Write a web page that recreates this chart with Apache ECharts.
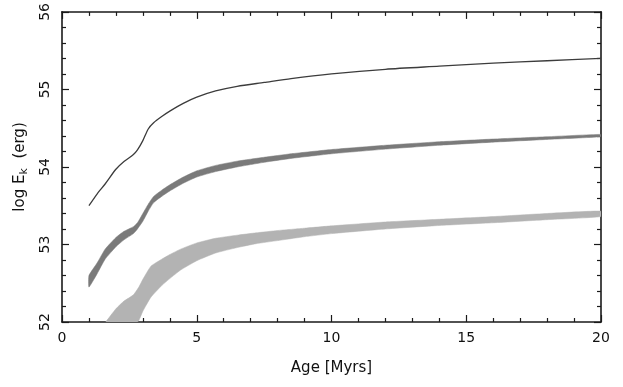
<!DOCTYPE html>
<html>
<head>
<meta charset="utf-8">
<script src="https://cdn.jsdelivr.net/npm/echarts@6/dist/echarts.min.js"></script>
<style>
html,body{margin:0;padding:0;background:#fff;}
#chart{width:623px;height:387px;}
</style>
</head>
<body>
<div id="chart"></div>
<script>
// Top curve (thin line)
const topAge  = [1.0, 1.3, 1.6, 2.0, 2.3, 2.65, 2.8, 3.0, 3.2, 3.4, 3.7, 4.0, 4.5, 5.0, 5.7, 6.5, 7.5, 8.5, 10, 12, 14, 16, 18, 20];
const topLogE = [53.50, 53.65, 53.78, 53.97, 54.07, 54.16, 54.22, 54.34, 54.49, 54.57, 54.65, 54.72, 54.82, 54.90, 54.98, 55.04, 55.09, 55.14, 55.20, 55.26, 55.30, 55.34, 55.37, 55.40];

// Middle band (dark grey)
const midAge  = [1.0, 1.3, 1.6, 2.0, 2.3, 2.65, 2.8, 3.0, 3.2, 3.4, 3.7, 4.0, 4.5, 5.0, 5.7, 6.5, 7.5, 8.5, 10, 12, 14, 16, 18, 20];
const midLow  = [52.45, 52.62, 52.81, 52.97, 53.06, 53.14, 53.20, 53.30, 53.43, 53.54, 53.62, 53.69, 53.79, 53.87, 53.94, 54.00, 54.06, 54.11, 54.17, 54.23, 54.28, 54.32, 54.355, 54.39];
const midHigh = [52.60, 52.76, 52.94, 53.09, 53.17, 53.23, 53.28, 53.40, 53.52, 53.62, 53.70, 53.77, 53.87, 53.95, 54.02, 54.075, 54.125, 54.17, 54.225, 54.28, 54.325, 54.36, 54.39, 54.42];

// Lower band (light grey)
const lightAge  = [1.0, 1.3, 1.6, 2.0, 2.3, 2.65, 2.85, 3.0, 3.3, 3.7, 4.0, 4.4, 5.0, 5.7, 6.5, 7.2, 8.0, 9.0, 10, 12, 14, 16, 18, 20];
const lightLow  = [51.25, 51.40, 51.55, 51.72, 51.85, 51.95, 52.02, 52.14, 52.32, 52.47, 52.56, 52.67, 52.79, 52.89, 52.96, 53.01, 53.05, 53.10, 53.14, 53.20, 53.245, 53.28, 53.32, 53.36];
const lightHigh = [51.72, 51.86, 51.99, 52.17, 52.27, 52.35, 52.45, 52.55, 52.72, 52.81, 52.87, 52.94, 53.02, 53.08, 53.12, 53.15, 53.18, 53.21, 53.24, 53.29, 53.325, 53.36, 53.40, 53.43];

const xMin = 0, xMax = 20, xStep = 5;
const yMin = 52, yMax = 56, yStep = 1;

const FONT = 'DejaVu Sans';
const AX = '#1a1a1a';

function pairs(xs, ys) { return xs.map((x, i) => [x, ys[i]]); }
function rows(xs, lo, hi) { return xs.map((x, i) => [x, lo[i], hi[i]]); }

function bandSeries(data, color, z) {
  return {
    type: 'custom', data: data, z: z, silent: true, clip: true,
    encode: {x: 0, y: [1, 2]},
    renderItem: function (params, api) {
      if (params.dataIndex !== 0) return null;
      const up = [], dn = [];
      for (let i = 0; i < data.length; i++) {
        up.push(api.coord([data[i][0], data[i][2]]));
        dn.push(api.coord([data[i][0], data[i][1]]));
      }
      const pts = up.concat(dn.reverse());
      const cs = params.coordSys;
      return {
        type: 'polygon',
        shape: {points: pts, smooth: 0.15},
        style: {fill: color, stroke: color, lineWidth: 0.5},
        clipPath: {type: 'rect', shape: {x: cs.x, y: cs.y, width: cs.width, height: cs.height}}
      };
    }
  };
}

const chart = echarts.init(document.getElementById('chart'), null, {renderer: 'canvas'});

const commonTick = {show: true, inside: true, length: 7, lineStyle: {color: AX, width: 1.2}};
const commonMinor = {show: true, splitNumber: 5, length: 4, lineStyle: {color: AX, width: 1.2}};

chart.setOption({
  animation: false,
  backgroundColor: '#fff',
  grid: {left: 62, right: 22, top: 11, bottom: 65, containLabel: false},
  xAxis: [{
    type: 'value', min: xMin, max: xMax, interval: xStep, position: 'bottom',
    name: 'Age [Myrs]', nameLocation: 'middle', nameGap: 39,
    nameTextStyle: {fontFamily: FONT, fontSize: 15, color: '#111'},
    axisLine: {show: true, onZero: false, lineStyle: {color: AX, width: 1.6}},
    axisTick: commonTick, minorTick: commonMinor,
    axisLabel: {fontFamily: FONT, fontSize: 14, color: '#111', margin: 9},
    splitLine: {show: false}
  }, {
    type: 'value', min: xMin, max: xMax, interval: xStep, position: 'top',
    axisLine: {show: true, onZero: false, lineStyle: {color: AX, width: 1.6}},
    axisTick: commonTick, minorTick: commonMinor,
    axisLabel: {show: false}, splitLine: {show: false}
  }],
  yAxis: [{
    type: 'value', min: yMin, max: yMax, interval: yStep, position: 'left',
    name: 'log E{sub|k}  (erg)', nameLocation: 'middle', nameGap: 27, nameRotate: 90,
    nameTextStyle: {fontFamily: FONT, fontSize: 15, color: '#111',
      rich: {sub: {fontFamily: FONT, fontSize: 11, color: '#111', padding: [9, 0, 0, 0]}}},
    axisLine: {show: true, onZero: false, lineStyle: {color: AX, width: 1.6}},
    axisTick: commonTick, minorTick: commonMinor,
    axisLabel: {fontFamily: FONT, fontSize: 14, color: '#111', rotate: 90, margin: 10},
    splitLine: {show: false}
  }, {
    type: 'value', min: yMin, max: yMax, interval: yStep, position: 'right',
    axisLine: {show: true, onZero: false, lineStyle: {color: AX, width: 1.6}},
    axisTick: commonTick, minorTick: commonMinor,
    axisLabel: {show: false}, splitLine: {show: false}
  }],
  series: [
    bandSeries(rows(lightAge, lightLow, lightHigh), '#b3b3b3', 1),
    bandSeries(rows(midAge, midLow, midHigh), '#7a7a7a', 2),
    {
      type: 'line', data: pairs(topAge, topLogE), symbol: 'none', smooth: 0.25,
      lineStyle: {width: 1.3, color: '#3c3c3c'}, silent: true, z: 3
    }
  ]
});
</script>
</body>
</html>
